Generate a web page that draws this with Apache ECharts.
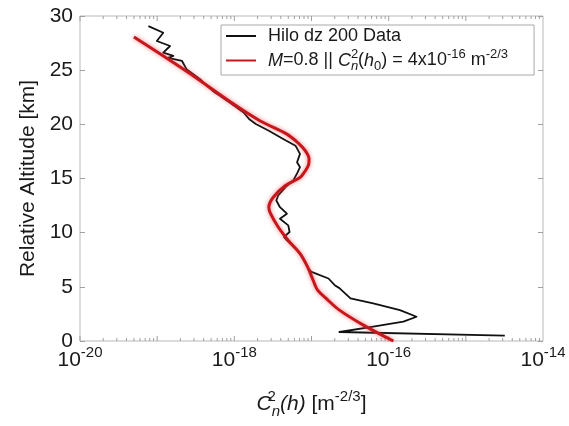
<!DOCTYPE html>
<html>
<head>
<meta charset="utf-8">
<script src="https://cdn.jsdelivr.net/npm/echarts@6/dist/echarts.min.js"></script>
<style>
  html, body { margin: 0; padding: 0; background: #ffffff; }
  #chart { width: 569px; height: 426px; }
</style>
</head>
<body>
<div id="chart"></div>
<script>
// Measured Cn2 profile, Hilo sounding, 200 m bins (altitude in km, Cn2 in m^-2/3)
const dataAltitude = [
  29.07, 28.45, 27.69, 27.23, 26.61, 26.31, 26.13, 25.85, 25.09, 24.17,
  23.55, 22.93, 22.63, 22.01, 21.09, 20.50, 20.03, 19.41, 18.65, 18.03, 17.27,
  16.50, 16.04, 15.57, 14.81, 14.20, 13.43, 12.97, 12.35, 11.75, 11.29,
  10.67, 10.06, 9.60, 9.29, 8.37, 7.91, 7.30, 6.69, 6.38, 5.77,
  5.15, 4.88, 3.93, 3.47, 2.85, 2.24, 1.78, 1.32, 0.83, 0.50
];
const dataCn2 = [
  7.7e-20, 1.2e-19, 9.9e-20, 1.47e-19, 1.2e-19, 1.62e-19, 1.38e-19, 2.1e-19, 2.4e-19, 3.6e-19,
  4.4e-19, 5.6e-19, 6.5e-19, 8.7e-19, 1.32e-18, 1.55e-18, 1.9e-18, 2.8e-18, 4.3e-18, 6.2e-18, 7.1e-18,
  6.5e-18, 7.1e-18, 6.6e-18, 5.8e-18, 4.6e-18, 3.7e-18, 3.5e-18, 3.9e-18, 4.8e-18, 3.9e-18,
  5.0e-18, 5.2e-18, 4.4e-18, 4.8e-18, 6.5e-18, 7.4e-18, 8.3e-18, 9.1e-18, 1.0e-17, 1.66e-17,
  2.0e-17, 2.3e-17, 3.2e-17, 6.3e-17, 1.4e-16, 2.3e-16, 1.55e-16, 6.3e-17, 2.3e-17, 3.2e-15
];

// Model profile, M = 0.8, Cn2(h0) = 4e-16
const modelAltitude = [
  28.06, 24.90, 21.87, 20.33, 19.10, 18.20, 17.57, 16.80, 16.19, 15.60,
  15.10, 14.35, 13.27, 12.35, 11.75, 10.52, 9.29, 8.07, 6.84, 5.61,
  4.70, 3.80, 2.85, 1.47, 0.00
];
const modelCn2 = [
  5.0e-20, 2.4e-19, 9.8e-19, 2.14e-18, 4.8e-18, 6.9e-18, 8.3e-18, 9.3e-18, 9.1e-18, 8.1e-18,
  7.1e-18, 4.6e-18, 3.2e-18, 2.8e-18, 2.95e-18, 3.7e-18, 5.0e-18, 7.1e-18, 8.9e-18, 1.05e-17,
  1.2e-17, 1.62e-17, 2.3e-17, 4.7e-17, 1.15e-16
];

// Axis layout values
const xLabelExponents = [-20, -18, -16, -14];
const tickDecades = [-20, -19, -18, -17, -16, -15];
const tickMultipliers = [1, 2, 3, 4, 5, 6, 7, 8, 9];
const yMin = 0, yMax = 30, yStep = 5;

const FONT = '"Liberation Sans", Arial, Helvetica, sans-serif';
const TXT = '#1a1a1a';
const AXIS_GREY = '#b8b8b8';
const TICK_GREY = '#a0a0a0';

// log-axis tick marks (decade majors + 2..9 minors), drawn on top and bottom edges
const tickData = [];
tickDecades.forEach(d => tickMultipliers.forEach(k => tickData.push([k * Math.pow(10, d), k])));

function richSet(main, small, lh, slh) {
  return {
    t:   { fontFamily: FONT, fontSize: main, color: TXT, lineHeight: lh },
    i:   { fontFamily: FONT, fontSize: main, color: TXT, lineHeight: lh, fontStyle: 'italic' },
    sup: { fontFamily: FONT, fontSize: small, color: TXT, lineHeight: slh, verticalAlign: 'top' },
    supz:{ fontFamily: FONT, fontSize: small, color: TXT, lineHeight: slh, verticalAlign: 'top', width: 0 },
    sub: { fontFamily: FONT, fontSize: small, color: TXT, lineHeight: slh, verticalAlign: 'bottom' },
    subi:{ fontFamily: FONT, fontSize: small, color: TXT, lineHeight: slh, verticalAlign: 'bottom', fontStyle: 'italic' },
    sp:  { fontFamily: FONT, fontSize: main, lineHeight: lh, width: 7 }
  };
}

const SERIES_DATA = 'Hilo dz 200 Data';
const SERIES_MODEL = 'M=0.8 || Cn2(h0) = 4x10-16 m-2/3';

const chart = echarts.init(document.getElementById('chart'), null, { renderer: 'canvas' });

chart.setOption({
  animation: false,
  backgroundColor: '#ffffff',
  grid: {
    left: 80, right: 26, top: 16, bottom: 85,
    show: true, borderColor: AXIS_GREY, borderWidth: 1, backgroundColor: '#ffffff'
  },
  legend: {
    left: 221, top: 25,
    orient: 'vertical',
    backgroundColor: '#ffffff',
    borderColor: '#a8a8a8', borderWidth: 1, borderRadius: 0,
    padding: [2, 26, 2, 4],
    itemWidth: 30, itemHeight: 14, itemGap: 3,
    itemStyle: { opacity: 0 },
    data: [SERIES_DATA, SERIES_MODEL],
    textStyle: { fontFamily: FONT, fontSize: 18, color: TXT, rich: richSet(18, 13, 25, 15) },
    formatter: function (name) {
      if (name === SERIES_DATA) return '{sp| }{t|Hilo dz 200 Data}';
      return '{sp| }{i|M}{t|=0.8 || }{i|C}{supz|2}{subi|n}{t|(}{i|h}{sub|0}{t|) = 4x10}{sup|-16}{t| m}{sup|-2/3}';
    }
  },
  xAxis: {
    type: 'log', logBase: 10, min: 1e-20, max: 1e-14,
    splitNumber: 6,
    name: '{i|C}{supz|2}{subi|n}{i|(h)}{t| [m}{sup|-2/3}{t|]}',
    nameLocation: 'middle', nameGap: 48,
    nameTextStyle: { fontFamily: FONT, fontSize: 21, color: TXT, rich: richSet(21, 15, 30, 17) },
    axisLine: { show: false },
    axisTick: { show: false },
    splitLine: { show: false },
    axisLabel: {
      margin: 4,
      formatter: function (v) {
        const e = Math.round(Math.log10(v));
        return xLabelExponents.indexOf(e) >= 0 ? '{b|10}{s|' + e + '}' : '';
      },
      rich: {
        b: { fontFamily: FONT, fontSize: 21, color: TXT, lineHeight: 30 },
        s: { fontFamily: FONT, fontSize: 15, color: TXT, lineHeight: 17, verticalAlign: 'top' }
      }
    }
  },
  yAxis: [{
    type: 'value', min: yMin, max: yMax, interval: yStep,
    name: 'Relative Altitude [km]',
    nameLocation: 'middle', nameGap: 39,
    nameTextStyle: { fontFamily: FONT, fontSize: 21, color: TXT },
    axisLine: { show: false },
    axisTick: { show: true, inside: true, length: 5, lineStyle: { color: TICK_GREY } },
    splitLine: { show: false },
    axisLabel: { fontFamily: FONT, fontSize: 21, color: TXT, margin: 7 }
  }, {
    type: 'value', min: yMin, max: yMax, interval: yStep, position: 'right',
    axisLine: { show: false },
    axisTick: { show: true, inside: true, length: 5, lineStyle: { color: TICK_GREY } },
    splitLine: { show: false },
    axisLabel: { show: false }
  }],
  series: [
    {
      type: 'custom',
      silent: true,
      z: 1,
      data: tickData,
      renderItem: function (params, api) {
        const v = api.value(0);
        const major = api.value(1) === 1;
        const len = major ? 5 : 3;
        const b = api.coord([v, yMin]);
        const t = api.coord([v, yMax]);
        const style = { stroke: TICK_GREY, lineWidth: 1 };
        return {
          type: 'group',
          children: [
            { type: 'line', shape: { x1: b[0], y1: b[1], x2: b[0], y2: b[1] - len }, style: style },
            { type: 'line', shape: { x1: t[0], y1: t[1], x2: t[0], y2: t[1] + len }, style: style }
          ]
        };
      }
    },
    {
      name: SERIES_DATA,
      type: 'line',
      showSymbol: false, symbol: 'none',
      z: 3,
      data: dataCn2.map((v, i) => [v, dataAltitude[i]]),
      lineStyle: { color: '#111111', width: 1.8, join: 'round' },
      itemStyle: { color: '#111111' }
    },
    {
      name: SERIES_MODEL,
      type: 'line',
      showSymbol: false, symbol: 'none',
      smooth: 0.35,
      z: 4,
      data: modelCn2.map((v, i) => [v, modelAltitude[i]]),
      lineStyle: {
        color: '#c8161d', width: 3,
        shadowColor: 'rgba(230, 70, 70, 0.7)', shadowBlur: 4
      },
      itemStyle: { color: '#c8161d' }
    }
  ]
});
</script>
</body>
</html>
